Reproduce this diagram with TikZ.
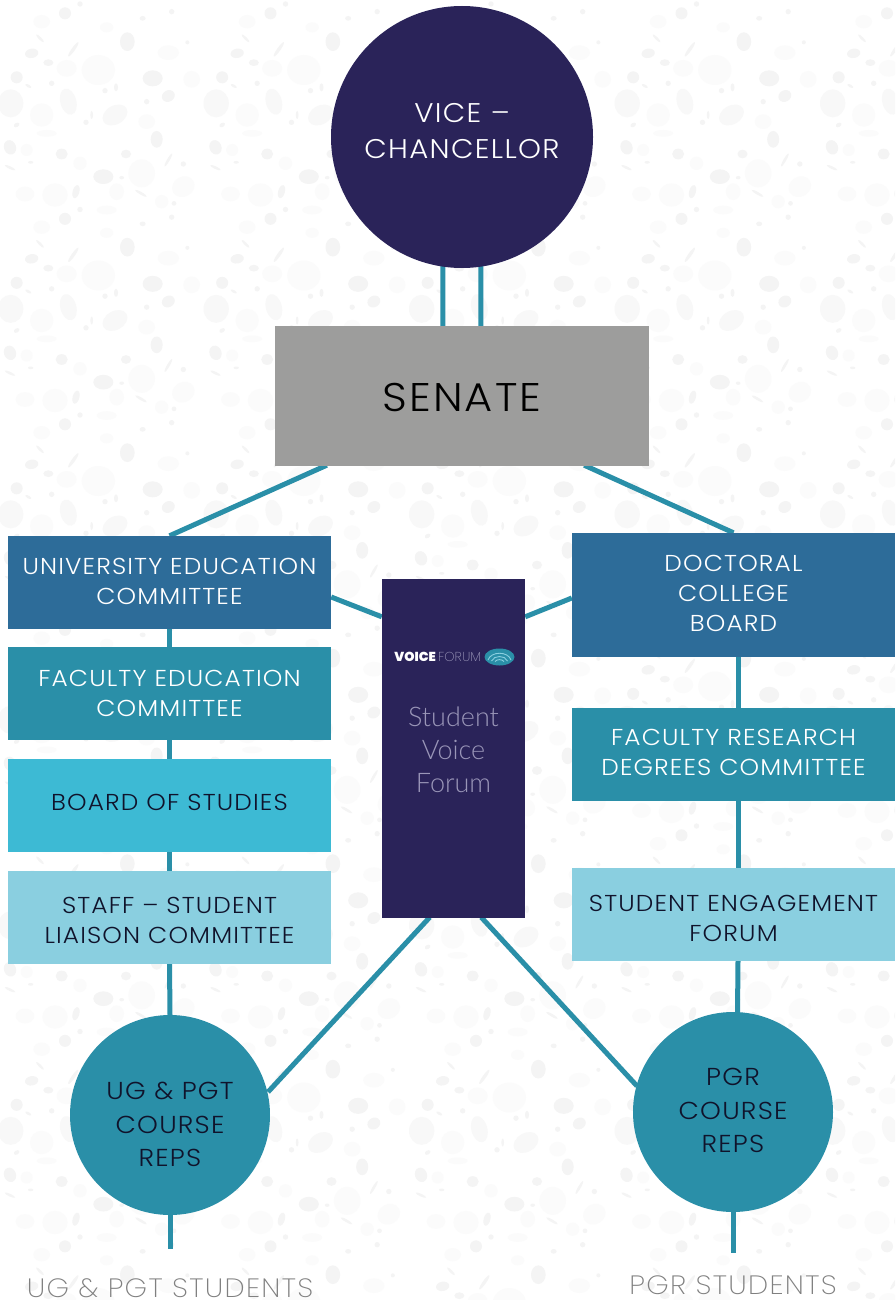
\documentclass[tikz,border=0pt]{standalone}
\usepackage{fontspec}
\setmainfont{Poppins Light}[FakeStretch=1.08,LetterSpace=5]
\newfontfamily\thinfont{Poppins ExtraLight}[FakeStretch=1.08,LetterSpace=5]
\newfontfamily\lightfont{Lato Light}
\newfontfamily\logothin{Poppins ExtraLight}
\newfontfamily\boldfont{Poppins Black}
\usetikzlibrary{calc,shapes.geometric}
\pgfdeclarelayer{paperlayer}
\pgfdeclarelayer{linklayer}
\pgfsetlayers{paperlayer,linklayer,main}
\definecolor{speckD}{HTML}{F4F4F4}
\definecolor{speckM}{HTML}{F8F8F8}
\definecolor{speckL}{HTML}{FBFBFB}
\definecolor{navy}{HTML}{2A2359}
\definecolor{link}{HTML}{2A8FA8}
\definecolor{blueA}{HTML}{2D6C99}
\definecolor{tealA}{HTML}{2A8FA8}
\definecolor{cyanA}{HTML}{3DBAD4}
\definecolor{paleA}{HTML}{8ACFE0}
\definecolor{senateg}{HTML}{9D9D9C}
\definecolor{lav}{HTML}{9A96B8}
\definecolor{studentg}{HTML}{808080}
\definecolor{darktext}{HTML}{10132B}
\newcommand\shiftup[1]{\rule[-#1pt]{0pt}{#1pt}}
\newcommand\shiftdown[1]{\rule{0pt}{#1pt}}
\newcommand\blob[6]{\fill[#6,rotate around={#5:(#1/3,#2/3)}] (#1/3,#2/3) ellipse [x radius=#3/3,y radius=#4/3];}
\newcommand\tile{%
\blob{32}{310}{38}{42}{0}{speckM}\blob{205}{305}{24}{40}{15}{speckM}\blob{345}{345}{40}{28}{30}{speckM}%
\blob{195}{40}{18}{18}{0}{speckD}\blob{382}{125}{22}{28}{0}{speckD}\blob{95}{160}{20}{14}{10}{speckD}%
\blob{145}{188}{15}{10}{0}{speckD}\blob{50}{232}{18}{18}{0}{speckD}\blob{458}{235}{30}{24}{0}{speckD}%
\blob{505}{288}{20}{17}{30}{speckD}\blob{470}{418}{18}{25}{0}{speckD}\blob{30}{442}{18}{22}{20}{speckD}%
\blob{185}{462}{18}{16}{0}{speckD}\blob{378}{462}{15}{13}{0}{speckD}\blob{310}{530}{30}{22}{0}{speckD}%
\blob{228}{575}{10}{20}{-15}{speckD}%
\blob{295}{210}{50}{45}{0}{speckL}\blob{200}{205}{30}{25}{0}{speckL}\blob{125}{65}{25}{20}{0}{speckL}%
\blob{320}{82}{20}{15}{0}{speckL}\blob{505}{158}{32}{22}{0}{speckL}\blob{575}{238}{25}{25}{0}{speckL}%
\blob{125}{345}{35}{35}{0}{speckL}\blob{440}{365}{25}{22}{0}{speckL}\blob{140}{400}{30}{10}{0}{speckL}%
\blob{80}{450}{18}{18}{0}{speckL}\blob{240}{490}{20}{20}{0}{speckL}\blob{425}{520}{40}{42}{0}{speckL}%
\blob{550}{560}{35}{30}{30}{speckL}\blob{75}{582}{28}{22}{0}{speckL}\blob{165}{585}{38}{35}{0}{speckL}%
\blob{350}{575}{22}{25}{0}{speckL}\blob{320}{630}{30}{13}{0}{speckL}\blob{485}{605}{20}{20}{0}{speckL}%
\blob{220}{148}{26}{5}{55}{speckD}\blob{120}{115}{16}{4}{-45}{speckD}\blob{30}{503}{17}{4}{-25}{speckD}%
\blob{423}{580}{20}{4}{-30}{speckD}\blob{505}{480}{22}{4}{60}{speckD}\blob{85}{258}{10}{4}{-30}{speckD}%
\blob{155}{250}{8}{8}{0}{speckD}\blob{315}{272}{8}{8}{0}{speckD}\blob{258}{367}{8}{8}{0}{speckD}%
\blob{440}{305}{8}{8}{0}{speckD}\blob{240}{12}{8}{8}{0}{speckD}\blob{515}{35}{8}{8}{0}{speckD}%
\blob{428}{55}{9}{7}{0}{speckD}\blob{562}{127}{6}{6}{0}{speckD}\blob{550}{492}{8}{8}{0}{speckD}%
\blob{275}{345}{4}{12}{0}{speckD}\blob{50}{375}{9}{6}{30}{speckD}\blob{348}{262}{6}{12}{0}{speckD}%
\blob{522}{610}{7}{7}{0}{speckD}\blob{365}{533}{7}{5}{0}{speckD}\blob{92}{487}{8}{4}{0}{speckD}%
}
\tikzset{
 x=1pt,y=-1pt,
 conn/.style={draw=link,line width=5pt},
 box/.style={minimum width=323pt,minimum height=93pt,inner sep=0pt,align=center,font=\fontsize{23}{30}\selectfont},
 circ/.style={circle,inner sep=0pt,align=center},
 bigtext/.style={font=\fontsize{24.5}{33.5}\selectfont},
 stud/.style={inner sep=0pt,anchor=south,text height=18pt,text depth=0pt,text=studentg,font=\thinfont\fontsize{26.5}{30}\selectfont},
}
\begin{document}
\begin{tikzpicture}
\useasboundingbox (0,0) rectangle (895,1300);
\begin{pgfonlayer}{paperlayer}
\fill[white] (0,0) rectangle (895,1300);
\begin{scope}
\clip (0,0) rectangle (895,1300);
\foreach \tx in {0,...,4}{\foreach \ty in {0,...,6}{
  \begin{scope}[shift={(\tx*205.5,\ty*205.5)}]\tile\end{scope}
}}
\end{scope}
\end{pgfonlayer}

% nodes
\node[circ,fill=navy,text=white,minimum size=262pt,font=\fontsize{27}{36}\selectfont] (vc) at (462,137) {VICE –\\CHANCELLOR\shiftup{12}};
\node[fill=senateg,minimum width=374pt,minimum height=140pt,inner sep=0pt,text=black,font=\fontsize{40}{44}\selectfont] (senate) at (462,396) {\shiftdown{32}SENATE};

\node[box,fill=blueA,text=white] (uec) at (169.5,582.5) {UNIVERSITY EDUCATION\\COMMITTEE\shiftup{3}};
\node[box,fill=tealA,text=white] (fec) at (169.5,693.5) {FACULTY EDUCATION\\COMMITTEE};
\node[box,fill=cyanA,text=darktext] (bos) at (169.5,805.5) {BOARD OF STUDIES\shiftup{6}};
\node[box,fill=paleA,text=darktext] (sslc) at (169.5,917.5) {\shiftdown{23}STAFF – STUDENT\\LIAISON COMMITTEE};

\node[box,fill=blueA,text=white,minimum height=124pt] (dcb) at (733.5,595) {DOCTORAL\\COLLEGE\\BOARD\shiftup{4}};
\node[box,fill=tealA,text=white] (frdc) at (733.5,754.5) {FACULTY RESEARCH\\DEGREES COMMITTEE\shiftup{5}};
\node[box,fill=paleA,text=darktext] (sef) at (733.5,914.5) {\shiftdown{24}STUDENT ENGAGEMENT\\FORUM};

\node[fill=navy,minimum width=143pt,minimum height=339pt,inner sep=0pt] (svf) at (453.5,748.5) {};
\node[text=lav,align=center,inner sep=0pt,font=\lightfont\fontsize{27}{33}\selectfont] (svft) at (453.5,750) {Student\\Voice\\Forum};
\node[inner sep=0pt,anchor=east,text=white,font=\boldfont\fontsize{13}{14}\selectfont] (logoa) at (436,656.5) {VOICE};
\node[inner sep=0pt,anchor=west,text=lav,font=\logothin\fontsize{13}{14}\selectfont] (logob) at (438,656.5) {FORUM};
\node[ellipse,fill=tealA,minimum width=30pt,minimum height=17pt,inner sep=0pt] (logoc) at (499.5,657) {};
\draw[paleA,line width=.9pt] (488,660) .. controls (491,651) and (508,651) .. (511,660);
\draw[paleA,line width=.9pt] (491.5,661) .. controls (494,655) and (505,655) .. (507.5,661);
\draw[paleA,line width=.9pt] (495,661.5) .. controls (497,659) and (502,659) .. (504,661.5);

\node[circ,fill=tealA,text=darktext,minimum size=200pt,bigtext] (ugc) at (170,1115) {\shiftdown{37}UG \& PGT\\COURSE\\REPS};
\node[circ,fill=tealA,text=darktext,minimum size=200pt,bigtext] (pgc) at (733,1112) {PGR\\COURSE\\REPS\shiftup{3}};

\node[stud] (ugs) at (170,1298) {UG \& PGT STUDENTS};
\node[stud] (pgs) at (733,1295) {PGR STUDENTS};
\coordinate (ugend) at (170,1249);
\coordinate (pgend) at (733,1253);

% connectors
\begin{pgfonlayer}{linklayer}
\draw[conn] ($(vc.south)+(-19,-5)$) -- ($(senate.north west)+(168,2)$);
\draw[conn] ($(vc.south)+(19,-5)$) -- ($(senate.north west)+(206,2)$);
\draw[conn] ($(senate.south west)+(52,-1)$) -- (uec.north);
\draw[conn] ($(senate.south east)+(-65,-1)$) -- (dcb.north);
\draw[conn] (uec.south) -- (fec.north);
\draw[conn] (fec.south) -- (bos.north);
\draw[conn] (bos.south) -- (sslc.north);
\draw[conn] (sslc.south) -- (ugc.north);
\draw[conn] ($(dcb.south)+(4.5,0)$) -- ($(frdc.north)+(4.5,0)$);
\draw[conn] ($(frdc.south)+(4.5,0)$) -- ($(sef.north)+(4.5,0)$);
\draw[conn] ($(sef.south)+(4.5,0)$) -- ($(pgc.north)+(4.5,2)$);
\draw[conn] ($(uec.east)+(0,14.5)$) -- ($(svf.north west)+(0,38)$);
\draw[conn] ($(dcb.west)+(0,3)$) -- ($(svf.north east)+(0,38)$);
\draw[conn] ($(svf.south west)+(48,-1)$) -- ($(ugc.center)+(98,-23)$);
\draw[conn] ($(svf.south east)+(-44,-1)$) -- ($(pgc.center)+(-96,-26)$);
\draw[conn] (ugc.south) -- (ugend);
\draw[conn] (pgc.south) -- (pgend);
\end{pgfonlayer}
\end{tikzpicture}
\end{document}
